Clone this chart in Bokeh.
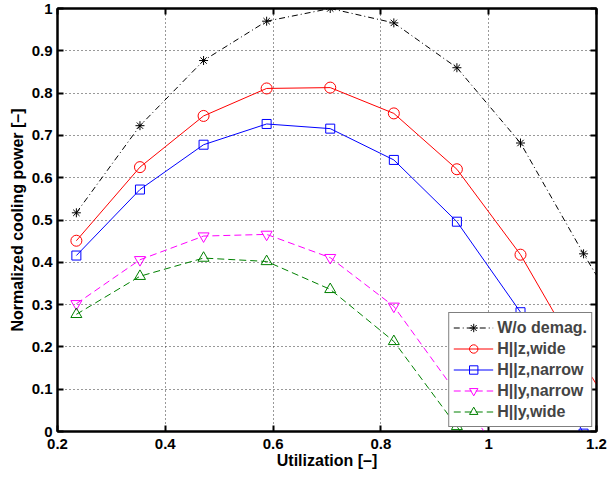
from bokeh.plotting import figure
from bokeh.models import (FixedTicker, CustomJSTickFormatter, LinearAxis, Range1d,
                          CustomLabelingPolicy)
from bokeh.embed import file_html
from bokeh.resources import INLINE

# ---- data ----
utilization = [0.235, 0.353, 0.471, 0.588, 0.706, 0.824, 0.941, 1.059, 1.176, 1.294]
wo_demag = [0.517, 0.723, 0.877, 0.970, 1.000, 0.966, 0.860, 0.682, 0.420, 0.170]
hz_wide = [0.451, 0.625, 0.746, 0.811, 0.813, 0.752, 0.620, 0.418, 0.160, -0.080]
hz_narrow = [0.416, 0.572, 0.678, 0.727, 0.716, 0.642, 0.496, 0.282, -0.005]
hy_narrow = [0.302, 0.406, 0.462, 0.466, 0.411, 0.296, 0.090, -0.120]
hy_wide = [0.277, 0.367, 0.410, 0.402, 0.336, 0.213, 0.012, -0.200]

x_ticks = [0.2, 0.4, 0.6, 0.8, 1.0, 1.2]
y_ticks = [0.0, 0.1, 0.2, 0.3, 0.4, 0.5, 0.6, 0.7, 0.8, 0.9, 1.0]

FONT = "Liberation Sans"

p = figure(width=607, height=479, output_backend="svg", toolbar_location=None,
           x_range=Range1d(0.2, 1.2), y_range=Range1d(0, 1),
           min_border_left=57, min_border_right=11, min_border_top=8, min_border_bottom=48)

fmt = CustomJSTickFormatter(code="return tick.toFixed(1).replace(/\\.0$/, '');")

for ax, ticks in ((p.xaxis[0], x_ticks), (p.yaxis[0], y_ticks)):
    ax.ticker = FixedTicker(ticks=ticks)
    ax.formatter = fmt
    ax.major_tick_in = 6
    ax.major_tick_out = 0
    ax.minor_tick_line_color = None
    ax.axis_line_width = 2
    ax.major_tick_line_width = 2
    ax.major_label_text_font = FONT
    ax.major_label_text_font_style = "bold"
    ax.major_label_text_font_size = "15px"
    ax.major_label_text_color = "black"
    ax.axis_label_text_font = FONT
    ax.axis_label_text_font_style = "bold"
    ax.axis_label_text_font_size = "16px"
    ax.axis_label_text_color = "black"

p.xaxis.axis_label = "Utilization [–]"
p.yaxis.axis_label = "Normalized cooling power [–]"
p.xaxis.major_label_standoff = 7
p.xaxis.axis_label_standoff = 0
p.yaxis.major_label_standoff = 5
p.yaxis.axis_label_standoff = 3

# mirrored axes (box) with tick marks only
no_labels = "const a = [...indices]; for (const i of a) indices.unset(i); return indices;"
top = LinearAxis(ticker=FixedTicker(ticks=x_ticks), major_label_text_font_size="1px",
                 major_label_policy=CustomLabelingPolicy(code=no_labels),
                 major_tick_in=6, major_tick_out=0, minor_tick_line_color=None,
                 axis_line_width=2, major_tick_line_width=2, major_label_standoff=0)
right = LinearAxis(ticker=FixedTicker(ticks=y_ticks), major_label_text_font_size="1px",
                   major_label_policy=CustomLabelingPolicy(code=no_labels),
                   major_tick_in=6, major_tick_out=0, minor_tick_line_color=None,
                   axis_line_width=2, major_tick_line_width=2, major_label_standoff=0)
p.add_layout(top, "above")
p.add_layout(right, "right")

p.outline_line_color = "black"
p.outline_line_width = 2
for g in (p.xgrid[0], p.ygrid[0]):
    g.grid_line_color = "#333333"
    g.grid_line_dash = "1 3"
    g.grid_line_width = 1
p.xgrid.ticker = FixedTicker(ticks=x_ticks)
p.ygrid.ticker = FixedTicker(ticks=y_ticks)

series = [
    ("W/o demag.", wo_demag, "black", "6 3 1 3", "asterisk", 9),
    ("H||z,wide", hz_wide, "red", "solid", "circle", 11),
    ("H||z,narrow", hz_narrow, "blue", "solid", "square", 9),
    ("H||y,narrow", hy_narrow, "magenta", "7 4", "inverted_triangle", 11),
    ("H||y,wide", hy_wide, "green", "7 4", "triangle", 11),
]
for label, ys, color, dash, marker, size in series:
    xs = utilization[:len(ys)]
    p.line(xs, ys, line_color=color, line_width=1, line_dash=dash, legend_label=label)
    p.scatter(xs, ys, marker=marker, size=size, line_color=color, fill_color=None,
              line_width=1, legend_label=label)

lg = p.legend[0]
lg.location = "bottom_right"
lg.margin = 4
lg.padding = 4
lg.spacing = 0
lg.label_text_font = FONT
lg.label_text_font_style = "bold"
lg.label_text_font_size = "16px"
lg.label_height = 21
lg.glyph_height = 21
lg.glyph_width = 40
lg.label_standoff = 4
lg.border_line_color = "black"
lg.border_line_width = 1.5
lg.background_fill_alpha = 1

open("out.html", "w").write(file_html(p, INLINE))
